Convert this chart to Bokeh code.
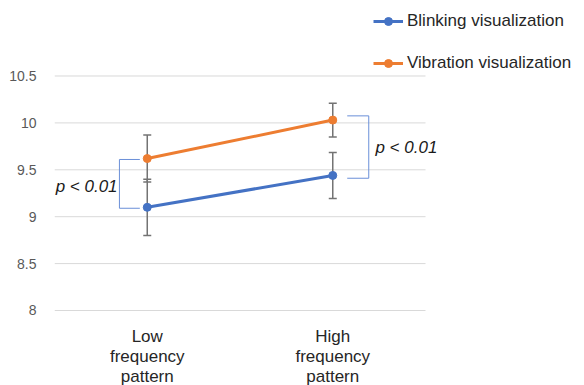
from bokeh.plotting import figure
from bokeh.models import Range1d, FixedTicker, Legend, LegendItem, Label, ColumnDataSource
from bokeh.embed import file_html
from bokeh.resources import INLINE

# ---- data ----
categories = ["Low\nfrequency\npattern", "High\nfrequency\npattern"]
blinking = [9.10, 9.44]
blinking_err = [0.30, 0.245]
vibration = [9.62, 10.03]
vibration_err = [0.25, 0.18]
y_ticks = [8, 8.5, 9, 9.5, 10, 10.5]
y_tick_labels = ["8", "8.5", "9", "9.5", "10", "10.5"]
sig_label = "p < 0.01"
series_names = ["Blinking visualization", "Vibration visualization"]

FONT = "Liberation Sans"
BLUE = "#4472C4"
ORANGE = "#ED7D31"
ERR = "#737373"
BRACKET = "#6A8FD8"
GRID = "#D9D9D9"

# category centres on a numeric scale (one unit per category)
xs = [i + 0.5 for i in range(len(categories))]
n_cat = len(categories)

p = figure(x_range=Range1d(0, 2.857), y_range=Range1d(7.2004, 11.3049),
           width=584, height=385, output_backend="svg", toolbar_location=None,
           x_axis_location=None,
           min_border_left=54, min_border_right=0, min_border_top=0,
           min_border_bottom=0)
p.outline_line_color = None
p.background_fill_color = "white"
p.xgrid.grid_line_color = None
p.ygrid.grid_line_color = None

# y axis
p.yaxis.ticker = FixedTicker(ticks=y_ticks)
p.yaxis.major_label_overrides = {t: l for t, l in zip(y_ticks, y_tick_labels)}
p.yaxis.axis_line_color = None
p.yaxis.major_tick_line_color = None
p.yaxis.minor_tick_line_color = None
p.yaxis.major_label_standoff = 12
p.yaxis.major_label_text_font = FONT
p.yaxis.major_label_text_font_size = "14px"
p.yaxis.major_label_text_color = "#595959"

# horizontal gridlines spanning only the category area
p.segment(x0=[0] * len(y_ticks), x1=[n_cat] * len(y_ticks), y0=y_ticks, y1=y_ticks,
          line_color=GRID, line_width=1)

# category labels below the axis line
for x, c in zip(xs, categories):
    p.add_layout(Label(x=x, y=y_ticks[0], y_offset=-17, text=c, text_align="center",
                       text_baseline="top", text_font=FONT, text_font_size="17px",
                       text_color="#262626", text_line_height=1.05))

# error bars
for vals, errs in ((blinking, blinking_err), (vibration, vibration_err)):
    s = ColumnDataSource(dict(x=xs, lo=[v - e for v, e in zip(vals, errs)],
                              hi=[v + e for v, e in zip(vals, errs)]))
    p.segment(x0="x", y0="lo", x1="x", y1="hi", source=s, line_color=ERR, line_width=1.5)
    p.scatter(x="x", y="lo", source=s, marker="dash", size=8, line_color=ERR, line_width=1.5)
    p.scatter(x="x", y="hi", source=s, marker="dash", size=8, line_color=ERR, line_width=1.5)

# series
b_line = p.line(xs, blinking, line_color=BLUE, line_width=3)
b_pts = p.scatter(xs, blinking, size=8, color=BLUE)
v_line = p.line(xs, vibration, line_color=ORANGE, line_width=3)
v_pts = p.scatter(xs, vibration, size=8, color=ORANGE)

# significance brackets
p.line([0.46, 0.35, 0.35, 0.46], [vibration[0] - 0.01, vibration[0] - 0.01,
                                  blinking[0] - 0.01, blinking[0] - 0.01],
       line_color=BRACKET, line_width=1)
p.line([1.578, 1.694, 1.694, 1.578], [vibration[1] + 0.045, vibration[1] + 0.045,
                                      blinking[1] - 0.03, blinking[1] - 0.03],
       line_color=BRACKET, line_width=1)
p.add_layout(Label(x=0.34, y=9.32, text=sig_label, text_align="right",
                   text_baseline="middle", text_font=FONT, text_font_size="17px",
                   text_font_style="italic", text_color="#1a1a1a"))
p.add_layout(Label(x=1.73, y=9.74, text=sig_label, text_align="left",
                   text_baseline="middle", text_font=FONT, text_font_size="17px",
                   text_font_style="italic", text_color="#1a1a1a"))

legend = Legend(items=[LegendItem(label=series_names[0], renderers=[b_line, b_pts]),
                       LegendItem(label=series_names[1], renderers=[v_line, v_pts])],
                location=(319, 312), orientation="vertical", spacing=22, padding=0,
                margin=0, glyph_width=30, glyph_height=20, label_height=20,
                label_standoff=4, label_text_font=FONT, label_text_font_size="17px",
                label_text_color="#262626", border_line_color=None,
                background_fill_alpha=0)
p.add_layout(legend, "center")

open("out.html", "w").write(file_html(p, INLINE))
